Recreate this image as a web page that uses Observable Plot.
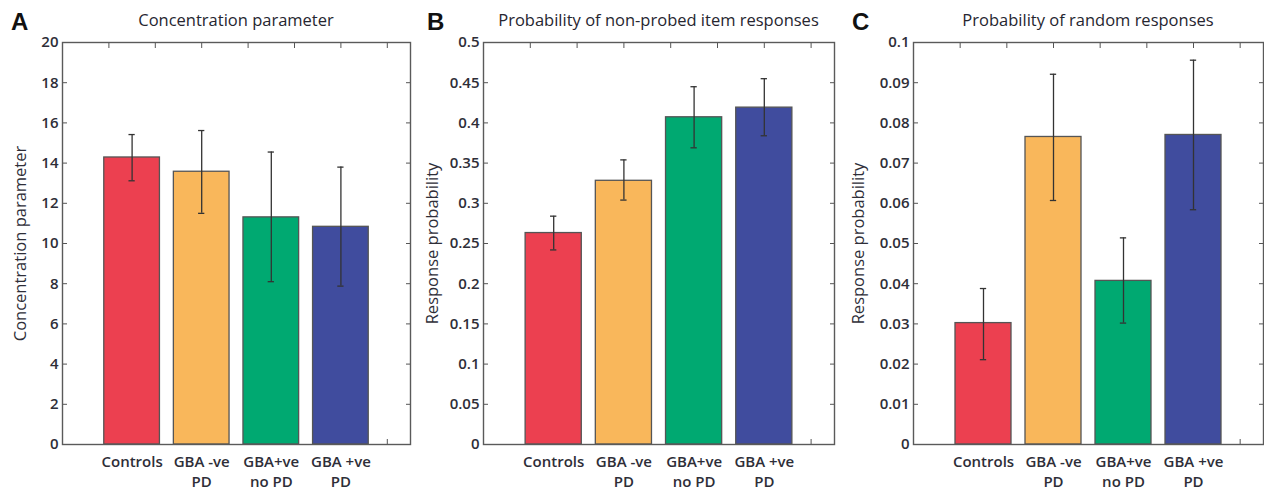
<!DOCTYPE html>
<html><head><meta charset="utf-8">
<script src="https://cdn.jsdelivr.net/npm/d3@7"></script>
<script src="https://cdn.jsdelivr.net/npm/@observablehq/plot@0.6"></script>
<style>
body{margin:0;background:#fff;}
#wrap{position:relative;width:1264px;height:490px;overflow:hidden;background:#fff;font-family:"Open Sans",sans-serif;color:#333;}
.panel{position:absolute;top:0;}
.letter{position:absolute;font:bold 24px/1 "Liberation Sans",Arial,sans-serif;color:#111;z-index:2;}
.title{position:absolute;font-size:16.5px;font-weight:500;line-height:1;z-index:2;transform:translateX(-50%);white-space:nowrap;color:#262630;}
</style></head><body><div id="wrap"></div>
<script>
// ---- data ----
const categories = ["Controls", "GBA -ve\nPD", "GBA+ve\nno PD", "GBA +ve\nPD"];
const positions = [1, 2, 3, 4];
const colors = ["#EC4050", "#F9B75B", "#00A971", "#404C9E"];
const xTicks = [2/3, 4/3, 2, 8/3, 10/3, 4, 14/3];

const concValues = [14.28, 13.57, 11.3, 10.83];
const concLower  = [13.12, 11.5, 8.1, 7.88];
const concUpper  = [15.42, 15.62, 14.55, 13.8];
const concTicks  = [0, 2, 4, 6, 8, 10, 12, 14, 16, 18, 20];

const nonProbedValues = [0.263, 0.328, 0.407, 0.419];
const nonProbedLower  = [0.242, 0.304, 0.369, 0.384];
const nonProbedUpper  = [0.284, 0.354, 0.445, 0.455];
const probTicks       = [0, 0.05, 0.1, 0.15, 0.2, 0.25, 0.3, 0.35, 0.4, 0.45, 0.5];

const randomValues = [0.0302, 0.0765, 0.0407, 0.077];
const randomLower  = [0.0211, 0.0607, 0.0302, 0.0584];
const randomUpper  = [0.0388, 0.0921, 0.0514, 0.0956];
const randomTicks  = [0, 0.01, 0.02, 0.03, 0.04, 0.05, 0.06, 0.07, 0.08, 0.09, 0.1];

const panels = [
  {letter: "A", title: "Concentration parameter", ylabel: "Concentration parameter",
   values: concValues, lower: concLower, upper: concUpper, ticks: concTicks, max: 20,
   left: 0, width: 420, ml: 62, mr: 10, ydx: -42, letterX: 11},
  {letter: "B", title: "Probability of non-probed item responses", ylabel: "Response probability",
   values: nonProbedValues, lower: nonProbedLower, upper: nonProbedUpper, ticks: probTicks, max: 0.5,
   left: 420, width: 420, ml: 63, mr: 6, ydx: -51, letterX: 427},
  {letter: "C", title: "Probability of random responses", ylabel: "Response probability",
   values: randomValues, lower: randomLower, upper: randomUpper, ticks: randomTicks, max: 0.1,
   left: 840, width: 424, ml: 73, mr: 1, ydx: -55, letterX: 852}
];

const wrap = document.getElementById("wrap");
const fmt = d3.format("~g");
const ink = "#555";

for (const cfg of panels) {
  const data = positions.map((p, i) => ({pos: p, cat: categories[i], color: colors[i],
    v: cfg.values[i], lo: cfg.lower[i], hi: cfg.upper[i]}));
  const chart = Plot.plot({
    width: cfg.width, height: 490,
    marginLeft: cfg.ml, marginRight: cfg.mr, marginTop: 42, marginBottom: 46,
    style: {background: "transparent", fontFamily: '"Open Sans", sans-serif', fontSize: "15px", color: "#2e2e38", overflow: "visible"},
    x: {domain: [0, 5]},
    y: {domain: [0, cfg.max]},
    color: {type: "identity"},
    marks: [
      Plot.axisY(cfg.ticks, {anchor: "left", tickSize: -5, tickPadding: 9, tickFormat: fmt, stroke: ink, label: null, fontSize: 15, fontWeight: 600}),
      Plot.axisY(cfg.ticks, {anchor: "right", tickSize: -5, tickFormat: () => "", stroke: ink, label: null}),
      Plot.axisX(xTicks, {anchor: "top", tickSize: -5, tickFormat: () => "", stroke: ink, label: null}),
      Plot.axisX(xTicks, {anchor: "bottom", tickSize: -5, tickFormat: () => "", stroke: ink, label: null}),
      Plot.rect(data, {x1: d => d.pos - 0.4, x2: d => d.pos + 0.4, y1: 0, y2: "v", fill: "color", stroke: "#555", strokeWidth: 1.3}),
      Plot.ruleX(data, {x: "pos", y1: "lo", y2: "hi", stroke: "#333", strokeWidth: 1.3}),
      Plot.ruleY(data, {y: "hi", x1: d => d.pos - 0.045, x2: d => d.pos + 0.045, stroke: "#333", strokeWidth: 1.3}),
      Plot.ruleY(data, {y: "lo", x1: d => d.pos - 0.045, x2: d => d.pos + 0.045, stroke: "#333", strokeWidth: 1.3}),
      Plot.frame({stroke: "#5a5a5a", strokeWidth: 1.4}),
      Plot.text(data, {x: "pos", text: "cat", frameAnchor: "bottom", lineAnchor: "top", dy: 8, lineHeight: 1.33, fontSize: 15, fontWeight: 600}),
      Plot.text([cfg.ylabel], {text: d => d, frameAnchor: "left", textAnchor: "middle", rotate: -90, dx: cfg.ydx, fontSize: 16.5, fontWeight: 500})
    ]
  });
  const div = document.createElement("div");
  div.className = "panel";
  div.style.left = cfg.left + "px";
  div.appendChild(chart);
  wrap.appendChild(div);

  const t = document.createElement("div");
  t.className = "title";
  t.textContent = cfg.title;
  t.style.left = (cfg.left + cfg.ml + (cfg.width - cfg.ml - cfg.mr) / 2) + "px";
  t.style.top = "12px";
  wrap.appendChild(t);

  const l = document.createElement("div");
  l.className = "letter";
  l.textContent = cfg.letter;
  l.style.left = cfg.letterX + "px";
  l.style.top = "10px";
  wrap.appendChild(l);
}
</script>
</body></html>
